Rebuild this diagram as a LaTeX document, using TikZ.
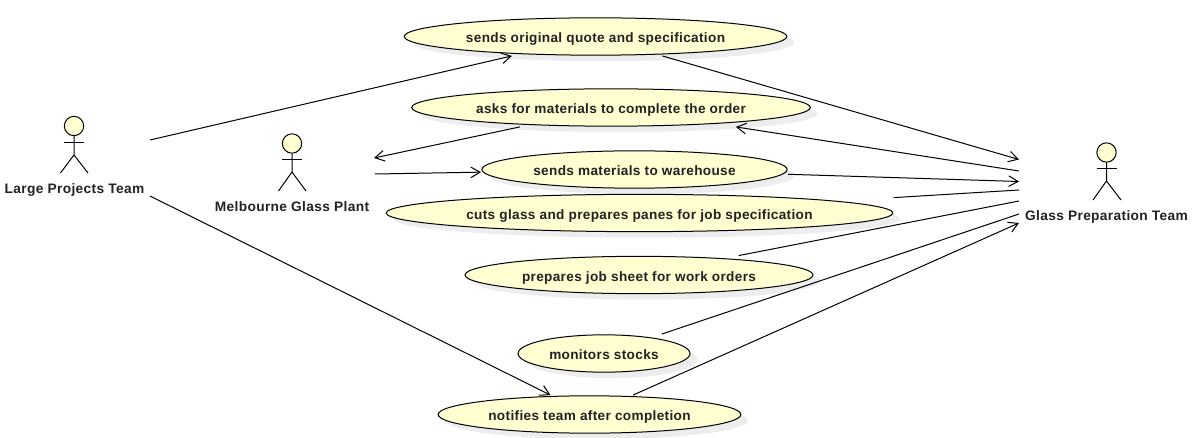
\documentclass[tikz,border=0pt]{standalone}
\usepackage{fontspec}
\setmainfont{Liberation Sans}[LetterSpace=2.5]
\definecolor{usecaseFill}{HTML}{FFFFD2}
\definecolor{shadowGray}{HTML}{EDEDED}
\definecolor{textDark}{HTML}{222222}
\usetikzlibrary{arrows.meta, shapes.geometric, shadows, fit}
\tikzset{
    usecase/.style={ellipse, draw=black, line width=0.75pt, fill=usecaseFill, inner sep=0pt, text=textDark,
        font=\fontsize{10.2}{12}\selectfont\bfseries, text height=11.5pt, text depth=1.8pt,
        drop shadow={shadow xshift=5.5pt, shadow yshift=-4.5pt, fill=shadowGray, opacity=1}},
    usebox/.style={rectangle, inner sep=0pt},
    actorname/.style={anchor=base, inner sep=0pt, text=textDark, font=\fontsize{10.3}{12}\selectfont\bfseries},
    actorhead/.style={circle, draw=black, line width=0.75pt, fill=usecaseFill, inner sep=0pt, minimum size=14.5pt},
    limb/.style={draw=black, line width=0.75pt},
    assoc/.style={draw=black, line width=0.75pt},
    directed/.style={assoc, -{Straight Barb[length=7pt, width=8pt]}},
}
\begin{document}
\begin{tikzpicture}[x=0.75pt, y=-0.75pt]
    \useasboundingbox (0,0) rectangle (1195,438);

    % use cases
    \node[usecase, minimum width=287pt, minimum height=28pt] (quote) at (595.5,36.5) {sends original quote and specification};
    \node[usecase, minimum width=299pt, minimum height=28pt] (materials) at (611,107.5) {asks for materials to complete the order};
    \node[usecase, minimum width=229pt, minimum height=28pt] (warehouse) at (634.5,169.5) {sends materials to warehouse};
    \node[usecase, minimum width=380pt, minimum height=28pt] (cuts) at (639.5,213) {cuts glass and prepares panes for job specification};
    \node[usecase, minimum width=261pt, minimum height=28pt] (jobsheet) at (639,275) {prepares job sheet for work orders};
    \node[usecase, minimum width=129pt, minimum height=28pt] (stocks) at (604,353.5) {monitors stocks};
    \node[usecase, minimum width=227pt, minimum height=28pt] (notifies) at (589.5,414.5) {notifies team after completion};

    % connectors stop at the box round each use case
    \node[usebox, fit=(quote)] (quoteBox) {};
    \node[usebox, fit=(materials)] (materialsBox) {};
    \node[usebox, fit=(warehouse)] (warehouseBox) {};
    \node[usebox, fit=(cuts)] (cutsBox) {};
    \node[usebox, fit=(jobsheet)] (jobsheetBox) {};
    \node[usebox, fit=(stocks)] (stocksBox) {};
    \node[usebox, fit=(notifies)] (notifiesBox) {};

    % large projects team
    \node[actorhead] (largeHead) at (74,126) {};
    \draw[limb] (largeHead.south) -- (74,155) -- (60.5,173);
    \draw[limb] (74,155) -- (88,173);
    \draw[limb] (64,142.5) -- (84,142.5);
    \node[actorname] (large) at (74.5,194) {Large Projects Team};

    % melbourne glass plant
    \node[actorhead] (plantHead) at (292,143.5) {};
    \draw[limb] (plantHead.south) -- (292,172) -- (278.5,191);
    \draw[limb] (292,172) -- (306,191);
    \draw[limb] (282,160) -- (302,160);
    \node[actorname] (plant) at (292,212) {Melbourne Glass Plant};

    % glass preparation team
    \node[actorhead] (glassHead) at (1106.5,152.5) {};
    \draw[limb] (glassHead.south) -- (1106.5,181) -- (1093,200);
    \draw[limb] (1106.5,181) -- (1121,200);
    \draw[limb] (1096.5,168.5) -- (1116.5,168.5);
    \node[actorname] (glass) at (1106.5,220.5) {Glass Preparation Team};

    % free ends of the connectors
    \coordinate (largeA) at (150,140);
    \coordinate (largeB) at (150,196);
    \coordinate (plantA) at (374,158);
    \coordinate (plantB) at (375,174);
    \coordinate (glassA) at (1019,159.5);
    \coordinate (glassB) at (1019,171);
    \coordinate (glassC) at (1019,181.5);
    \coordinate (glassD) at (1019,190);
    \coordinate (glassE) at (1019,201);
    \coordinate (glassF) at (1019,214);
    \coordinate (glassG) at (1019,223);

    \draw[directed] (largeA) -- (quoteBox);
    \draw[directed] (largeB) -- (notifiesBox);
    \draw[directed] (materialsBox) -- (plantA);
    \draw[directed] (plantB) -- (warehouseBox);
    \draw[directed] (quoteBox) -- (glassA);
    \draw[directed] (glassB) -- (materialsBox);
    \draw[directed] (warehouseBox) -- (glassC);
    \draw[assoc] (cutsBox) -- (glassD);
    \draw[assoc] (jobsheetBox) -- (glassE);
    \draw[assoc] (stocksBox) -- (glassF);
    \draw[directed] (notifiesBox) -- (glassG);
\end{tikzpicture}
\end{document}
